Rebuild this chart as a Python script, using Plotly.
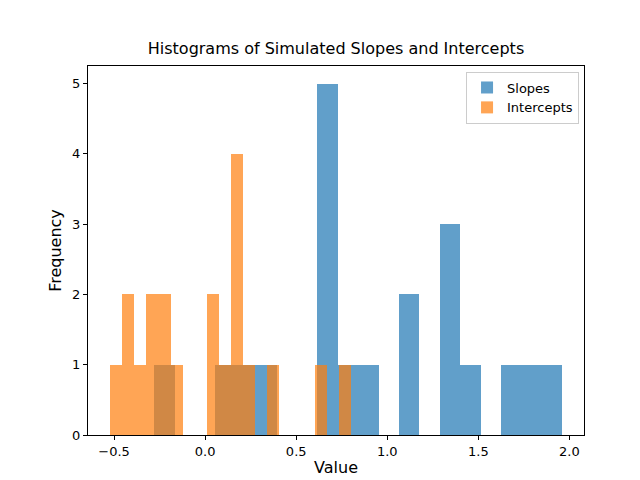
import numpy as np
import plotly.graph_objects as go

# 20-bin histograms
slope_start, slope_width = -0.28, 0.112
slope_counts = [1, 0, 0, 1, 1, 1, 0, 0, 5, 1, 1, 0, 2, 0, 3, 1, 0, 1, 1, 1]
icpt_start, icpt_width = -0.52, 0.066
icpt_counts = [1, 2, 1, 2, 2, 1, 0, 0, 2, 1, 4, 1, 0, 1, 0, 0, 0, 1, 0, 1]


def centers(start, width, n):
    return start + width * (np.arange(n) + 0.5)


fig = go.Figure()
fig.add_trace(go.Bar(
    x=centers(slope_start, slope_width, len(slope_counts)), y=slope_counts,
    width=slope_width, name="Slopes", marker=dict(color="#1f77b4", line_width=0), opacity=0.7,
))
fig.add_trace(go.Bar(
    x=centers(icpt_start, icpt_width, len(icpt_counts)), y=icpt_counts,
    width=icpt_width, name="Intercepts", marker=dict(color="#ff7f0e", line_width=0), opacity=0.7,
))

axis = dict(showgrid=False, zeroline=False, showline=True, linecolor="black", mirror=True,
            ticks="outside", ticklen=4, tickcolor="black", automargin=False,
            tickfont=dict(size=13))
fig.update_layout(
    width=640, height=480, barmode="overlay", plot_bgcolor="white", paper_bgcolor="white",
    font=dict(family="DejaVu Sans", size=13, color="black"),
    title=dict(text="Histograms of Simulated Slopes and Intercepts", x=0.5, xanchor="center",
               xref="paper", y=0.905, yanchor="bottom", font=dict(size=16)),
    margin=dict(l=80, r=64, t=58, b=53, autoexpand=False),
    xaxis=dict(axis, range=[-0.643, 2.08], tickvals=[-0.5, 0, 0.5, 1, 1.5, 2],
               ticktext=["−0.5", "0.0", "0.5", "1.0", "1.5", "2.0"], title=dict(text="Value", standoff=4)),
    yaxis=dict(axis, range=[0, 5.25], dtick=1, title=dict(text="Frequency", standoff=6)),
    legend=dict(x=0.99, y=0.985, xanchor="right", yanchor="top", bordercolor="#cccccc",
                borderwidth=1, bgcolor="rgba(255,255,255,0.8)"),
    bargap=0,
)
fig.write_html("out.html")
